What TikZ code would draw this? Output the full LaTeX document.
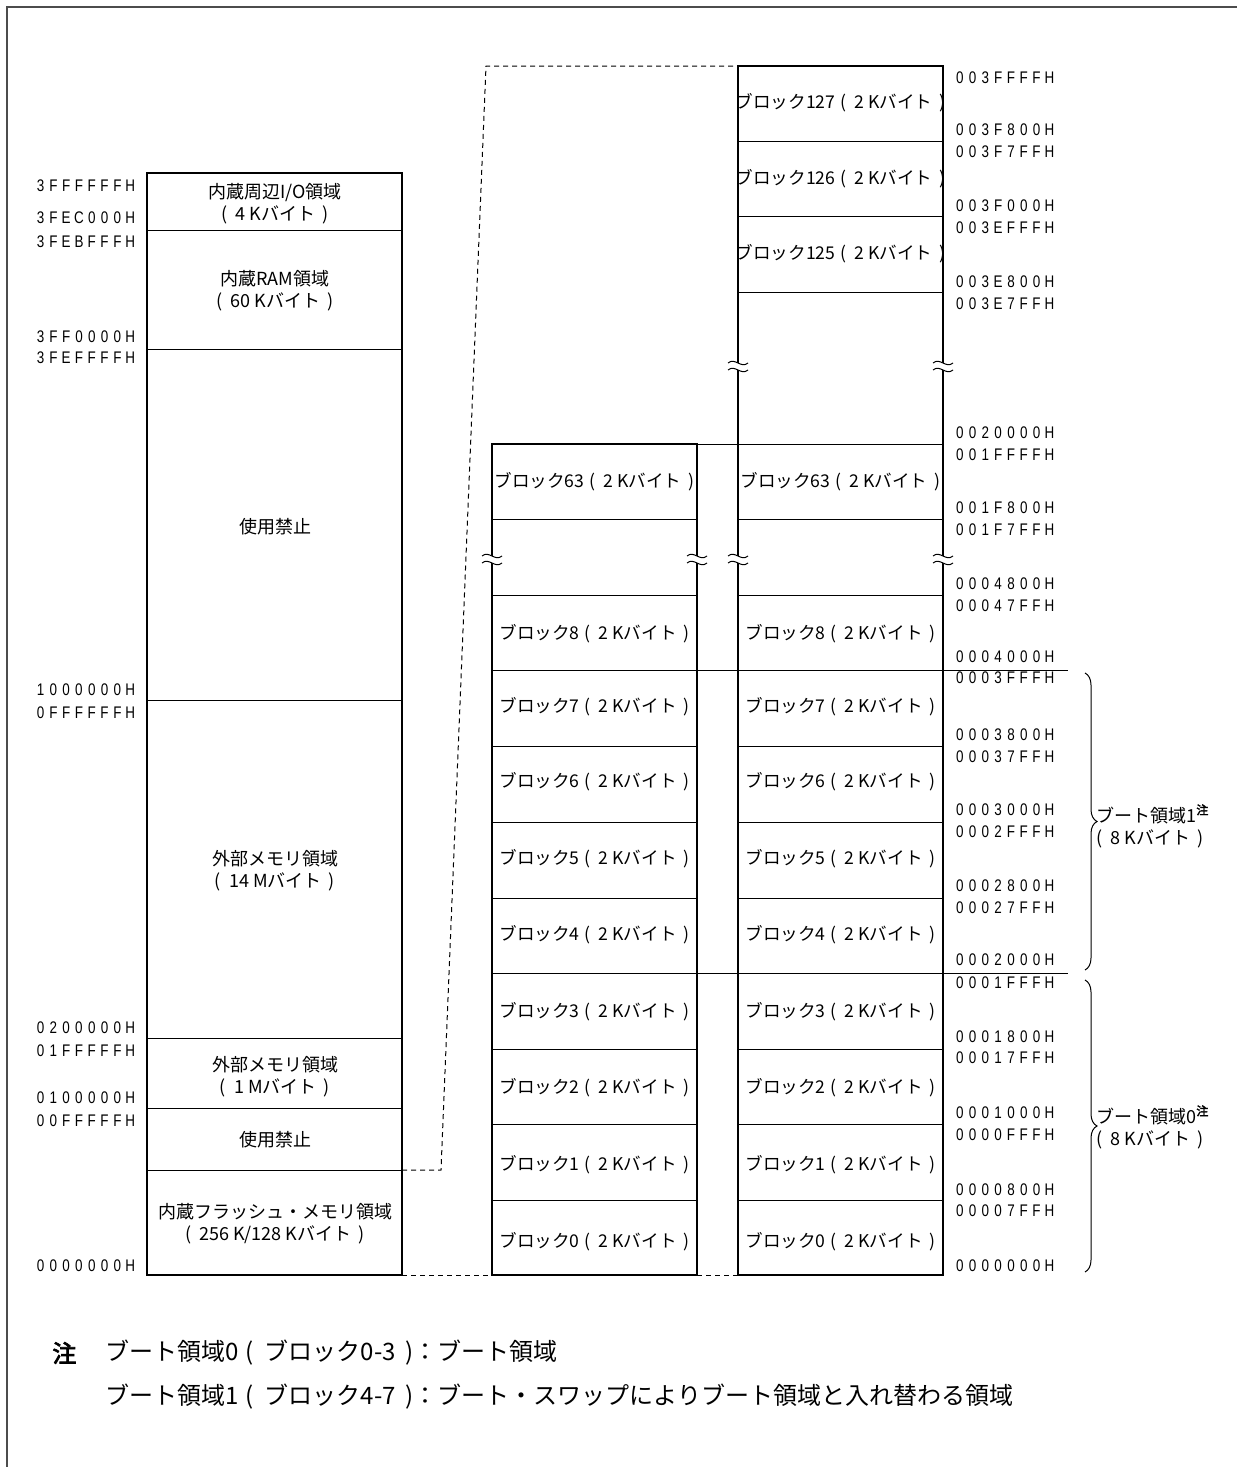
\documentclass[tikz,border=0pt]{standalone}
\usepackage{fontspec}
\setmainfont{Noto Sans CJK JP}[AutoFakeBold=3]
\newfontfamily\addrfont{Liberation Sans}[FakeStretch=0.8]
\usetikzlibrary{decorations.pathreplacing}

\newcommand\lp{(\hspace{.45em}}
\newcommand\rp{\hspace{.4em})}
% addresses: one fixed cell per character
\newcommand\addr[1]{{\addrfont\expandafter\addrloop#1\relax}}
\def\addrloop#1{\ifx#1\relax\else\makebox[6.4pt]{#1}\expandafter\addrloop\fi}
% break mark over a vertical edge
\newcommand\brk[2]{%
  \fill[white] (#1-10,#2-3) .. controls (#1-3,#2-9) and (#1+3,#2+3) .. (#1+10,#2-3)
    -- (#1+10,#2+4) .. controls (#1+3,#2+10) and (#1-3,#2-2) .. (#1-10,#2+4) -- cycle;
  \draw[sep] (#1-10,#2-3) .. controls (#1-3,#2-9) and (#1+3,#2+3) .. (#1+10,#2-3);
  \draw[sep] (#1-10,#2+4) .. controls (#1-3,#2-2) and (#1+3,#2+10) .. (#1+10,#2+4);
}

\begin{document}
\begin{tikzpicture}[x=0.5pt,y=-0.5pt,
    box/.style={line width=1.25pt},
    sep/.style={line width=0.5pt},
    link/.style={line width=0.5pt,dash pattern=on 2.5pt off 2pt},
    area/.style={font=\fontsize{9}{11}\selectfont,align=center,inner sep=0pt},
    blk/.style={font=\fontsize{8.8}{10}\selectfont,inner sep=0pt},
    adl/.style={anchor=east,inner sep=0pt,font=\fontsize{8.4}{10}\selectfont},
    adr/.style={anchor=west,inner sep=0pt,font=\fontsize{8.4}{10}\selectfont}]
  \useasboundingbox (0,0) rectangle (1237,1467);
  \draw[gray!60!black,line width=0.9pt] (7,1467) -- (7,7) -- (1237,7);

  % whole address space
  \foreach \y in {230,349,700,1038,1108,1170}
    \draw[sep] (147,\y) -- (402,\y);
  \draw[box] (147,173) rectangle (402,1275);
  \node[area] (io) at (275,204) {内蔵周辺I/O領域\\\lp 4 Kバイト\rp};
  \node[area] (ram) at (275,291) {内蔵RAM領域\\\lp 60 Kバイト\rp};
  \node[area] (rsv1) at (275,527) {使用禁止};
  \node[area] (ext14) at (275,871) {外部メモリ領域\\\lp 14 Mバイト\rp};
  \node[area] (ext1) at (275,1077) {外部メモリ領域\\\lp 1 Mバイト\rp};
  \node[area] (rsv2) at (275,1140) {使用禁止};
  \node[area] (flash) at (275,1224) {内蔵フラッシュ・メモリ領域\\\lp 256 K/128 Kバイト\rp};
  \foreach \y/\a in {186/3FFFFFFH,218/3FEC000H,242/3FEBFFFH,337/3FF0000H,358/3FEFFFFH,
      690/1000000H,713/0FFFFFFH,1028/0200000H,1051/01FFFFFH,1098/0100000H,
      1121/00FFFFFH,1266/0000000H}
    \node[adl] (la\y) at (137,\y) {\addr{\a}};

  % flash blocks, 128 K and 256 K
  \foreach \y in {519,595,746,822,898,1049,1124,1200}
    \draw[sep] (492,\y) -- (697,\y);
  \foreach \y in {141,216,292,519,595,746,822,898,1049,1124,1200}
    \draw[sep] (738,\y) -- (943,\y);
  \draw[sep] (697,444) -- (943,444);
  \draw[sep] (492,670) -- (1068,670);
  \draw[sep] (492,973) -- (1068,973);
  \draw[box] (492,444) rectangle (697,1275);
  \draw[box] (738,66) rectangle (943,1275);
  \brk{492}{559} \brk{697}{559} \brk{738}{559} \brk{943}{559}
  \brk{738}{366} \brk{943}{366}
  \foreach \n/\y in {63/482,8/634,7/707,6/782,5/859,4/935,3/1012,2/1088,1/1165,0/1242} {
    \node[blk] (mb\n) at (594.5,\y) {ブロック\n\hspace{.3em}\lp 2 Kバイト\rp};
    \node[blk] (rb\n) at (840.5,\y) {ブロック\n\hspace{.3em}\lp 2 Kバイト\rp};
  }
  \foreach \n/\y in {127/103,126/179,125/254}
    \node[blk] (rb\n) at (840.5,\y) {ブロック\n\hspace{.3em}\lp 2 Kバイト\rp};
  \foreach \y/\a in {78/003FFFFH,130/003F800H,152/003F7FFH,206/003F000H,228/003EFFFH,
      282/003E800H,304/003E7FFH,433/0020000H,455/001FFFFH,508/001F800H,530/001F7FFH,
      584/0004800H,606/00047FFH,657/0004000H,678/0003FFFH,735/0003800H,757/00037FFH,
      810/0003000H,832/0002FFFH,886/0002800H,908/00027FFH,960/0002000H,983/0001FFFH,
      1037/0001800H,1058/00017FFH,1113/0001000H,1135/0000FFFH,1190/0000800H,
      1211/00007FFH,1266/0000000H}
    \node[adr] (ra\y) at (953,\y) {\addr{\a}};

  % zoom-in lines
  \coordinate (flashR) at (402,1170);
  \coordinate (flashB) at (402,1275);
  \coordinate (midBL) at (492,1275);
  \coordinate (midBR) at (697,1275);
  \coordinate (bankBL) at (738,1275);
  \coordinate (bankTL) at (738,66);
  \draw[link] (flashR) -- (441,1170) -- (486,66) -- (bankTL);
  \draw[link] (flashB) -- (midBL);
  \draw[link] (midBR) -- (bankBL);

  % boot areas
  \coordinate (b1t) at (1085,673);
  \coordinate (b1b) at (1085,970);
  \coordinate (b0t) at (1085,980);
  \coordinate (b0b) at (1085,1272);
  \draw[sep,decorate,decoration={brace,amplitude=6pt}] (b1t) -- (b1b);
  \draw[sep,decorate,decoration={brace,amplitude=6pt}] (b0t) -- (b0b);
  \node[area,anchor=west,align=left] (boot1) at (1096,826)
    {ブート領域1\textsuperscript{\bfseries 注}\\\lp 8 Kバイト\rp};
  \node[area,anchor=west,align=left] (boot0) at (1096,1127)
    {ブート領域0\textsuperscript{\bfseries 注}\\\lp 8 Kバイト\rp};

  % note
  \node[anchor=west,inner sep=0pt,font=\fontsize{12}{14}\selectfont\bfseries] (note) at (52,1353) {注};
  \node[anchor=west,inner sep=0pt,font=\fontsize{12}{14}\selectfont] (note0) at (105,1353)
    {ブート領域0\hspace{.3em}\lp ブロック0-3\rp：ブート領域};
  \node[anchor=west,inner sep=0pt,font=\fontsize{12}{14}\selectfont] (note1) at (105,1397)
    {ブート領域1\hspace{.3em}\lp ブロック4-7\rp：ブート・スワップによりブート領域と入れ替わる領域};
\end{tikzpicture}
\end{document}
